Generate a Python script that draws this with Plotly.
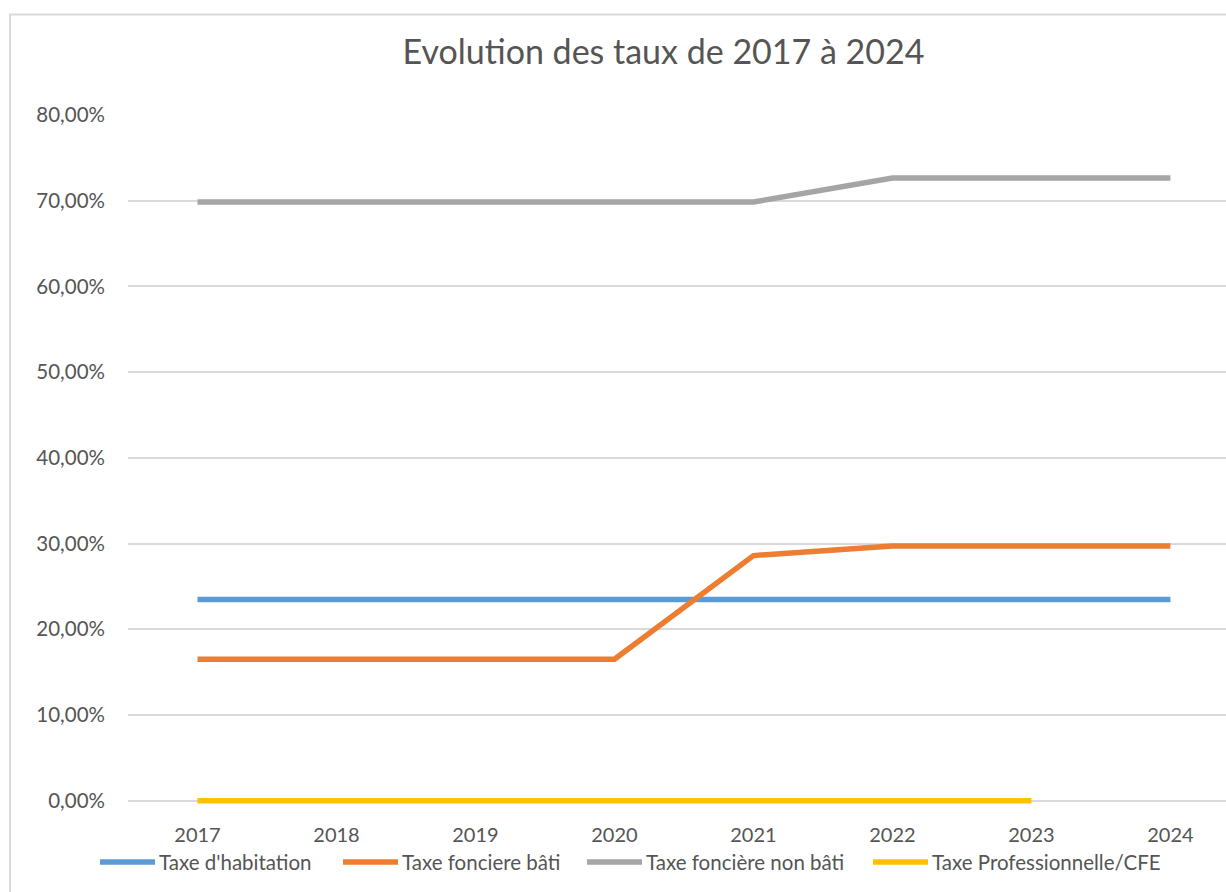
import plotly.graph_objects as go

# Années et taux (en fraction) par taxe
years = ["2017", "2018", "2019", "2020", "2021", "2022", "2023", "2024"]
taxe_habitation = [0.2347, 0.2347, 0.2347, 0.2347, 0.2347, 0.2347, 0.2347, 0.2347]
taxe_fonciere_bati = [0.165, 0.165, 0.165, 0.165, 0.286, 0.2973, 0.2973, 0.2973]
taxe_fonciere_non_bati = [0.6985, 0.6985, 0.6985, 0.6985, 0.6985, 0.7264, 0.7264, 0.7264]
taxe_pro_cfe = [0.0, 0.0, 0.0, 0.0, 0.0, 0.0, 0.0, None]

series_names = ["Taxe d'habitation", "Taxe fonciere bâti",
                "Taxe foncière non bâti", "Taxe Professionnelle/CFE"]
series_values = [taxe_habitation, taxe_fonciere_bati,
                 taxe_fonciere_non_bati, taxe_pro_cfe]
series_colors = ["#5B9BD5", "#ED7D31", "#A5A5A5", "#FFC000"]

W, H = 1226, 892
# a small slack under 0 keeps the full width of the 0 % line visible
Y_MIN, Y_MAX = -0.005, 0.8
M_L, M_R, M_T, M_B = 128, 0, 115, 87
PLOT_W = W - M_L - M_R
PLOT_H = H - M_T - M_B
FONT = "Lato"
TXT = "#555555"
GRID = "#D9D9D9"


def paper_x(px):
    return (px - M_L) / PLOT_W


def paper_y(py):
    return (H - M_B - py) / PLOT_H


fig = go.Figure()
for name, vals, col in zip(series_names, series_values, series_colors):
    fig.add_trace(go.Scatter(
        x=years, y=vals, name=name, mode="lines",
        line=dict(color=col, width=5.5),
        showlegend=False, connectgaps=False,
    ))

# Légende sous le graphique : trait + libellé
legend_x = [100, 343, 587, 873]
legend_y = 862
for name, col, lx in zip(series_names, series_colors, legend_x):
    fig.add_shape(type="line", xref="paper", yref="paper",
                  x0=paper_x(lx), x1=paper_x(lx + 55),
                  y0=paper_y(legend_y), y1=paper_y(legend_y),
                  line=dict(color=col, width=5.5))
    fig.add_annotation(xref="paper", yref="paper",
                       x=paper_x(lx + 57), y=paper_y(legend_y),
                       xanchor="left", yanchor="middle", showarrow=False,
                       text=name, font=dict(family=FONT, size=20.5, color=TXT))

# Cadre de la zone de graphique
fig.add_shape(type="rect", xref="paper", yref="paper", layer="below",
              x0=paper_x(10), x1=paper_x(W + 60),
              y0=paper_y(H + 60), y1=paper_y(14.5),
              line=dict(color=GRID, width=2), fillcolor="rgba(0,0,0,0)")

fig.update_layout(
    width=W, height=H,
    margin=dict(l=M_L, r=M_R, t=M_T, b=M_B),
    paper_bgcolor="white", plot_bgcolor="white",
    separators=", ",
    font=dict(family=FONT, size=20, color=TXT),
    title=dict(text="Evolution des taux de 2017 à 2024",
               x=663.5 / W, xref="container", xanchor="center",
               y=1 - 52 / H, yref="container", yanchor="middle",
               font=dict(family=FONT, size=34, color=TXT)),
    xaxis=dict(type="category", range=[-0.5, 7.4], showgrid=False,
               showline=False, zeroline=False, ticks="",
               ticklabelstandoff=16,
               tickfont=dict(family=FONT, size=20, color=TXT)),
    yaxis=dict(range=[Y_MIN, Y_MAX], tick0=0, dtick=0.1, tickformat=".2%",
               showgrid=True, gridcolor=GRID, gridwidth=1.5,
               zeroline=False, showline=False, ticks="",
               ticklabelstandoff=22,
               tickfont=dict(family=FONT, size=20.5, color=TXT)),
)

fig.write_html("out.html")
